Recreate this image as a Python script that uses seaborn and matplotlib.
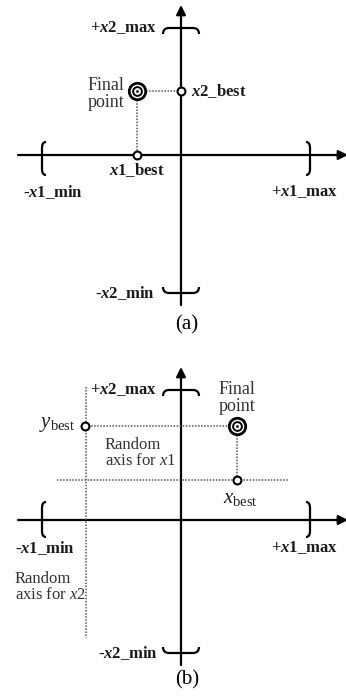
import matplotlib
matplotlib.use("Agg")
import matplotlib.pyplot as plt
from matplotlib.path import Path
from matplotlib.patches import PathPatch
import seaborn as sns

# Diagram geometry (offsets from the axis crossing, in pixel-like units)
# panel (a)
a_vaxis = [-150, 150]
a_haxis = [-163, 167]
a_xbr = [-139, 129]
a_xbr_span = [13, -20]
a_ybr = [127, -138]
a_final = (-44, 64)
a_x2best = (0, 64)
a_x1best = (-44, 0)

# panel (b)
b_vaxis = [-145, 153]
b_haxis = [-163, 167]
b_xbr = [-139, 129]
b_xbr_span = [18, -17]
b_ybr = [130, -133]
b_final = (56, 94)
b_ybest = (-96, 94)
b_xbest = (56, 40)
b_rand_x2 = [-95, 133, -118]   # x, y top, y bottom
b_rand_x1 = [40, -124, 107]    # y, x left, x right

sns.set_style('white')
plt.rcParams['font.family'] = ['Liberation Serif', 'DejaVu Serif']
plt.rcParams['mathtext.fontset'] = 'custom'
plt.rcParams['mathtext.rm'] = 'Liberation Serif'
plt.rcParams['mathtext.it'] = 'Liberation Serif:italic'
plt.rcParams['mathtext.bf'] = 'Liberation Serif:bold'
plt.rcParams['mathtext.bfit'] = 'Liberation Serif:bold:italic'

fig = plt.figure(figsize=(3.46, 6.96), dpi=100)
ax_a = fig.add_axes([0, 0.5, 1, 0.5])
ax_b = fig.add_axes([0, 0, 1, 0.5])
ax_a.set_xlim(-181, 165)
ax_a.set_ylim(-193, 155)
ax_b.set_xlim(-181, 165)
ax_b.set_ylim(-176, 172)

LW = 1.6
DOT = dict(color='#555555', linestyle=(0, (1, 1)), linewidth=1.1)
BOLD = dict(fontsize=12, fontweight='bold', color='#1a1a1a')
PLAIN = dict(fontsize=13, color='#333333')
SMALL = dict(fontsize=12, color='#333333')


def axes_cross(ax, vaxis, haxis):
    ax.plot([0, 0], [vaxis[0], vaxis[1] - 8], color='black', lw=LW)
    ax.plot([haxis[0], haxis[1] - 8], [0, 0], color='black', lw=LW)
    ax.annotate('', xy=(0, vaxis[1]), xytext=(0, vaxis[1] - 12),
                arrowprops=dict(arrowstyle='-|>', color='black', lw=LW,
                                mutation_scale=14, shrinkA=0, shrinkB=0))
    ax.annotate('', xy=(haxis[1], 0), xytext=(haxis[1] - 12, 0),
                arrowprops=dict(arrowstyle='-|>', color='black', lw=LW,
                                mutation_scale=14, shrinkA=0, shrinkB=0),
                annotation_clip=False)


def vbracket(ax, x, top, bot, d):
    # "(" when d > 0, ")" when d < 0
    h = 6
    verts = [(x + d, top), (x, top), (x, top - h),
             (x, bot + h),
             (x, bot), (x + d, bot)]
    codes = [Path.MOVETO, Path.CURVE3, Path.CURVE3,
             Path.LINETO, Path.CURVE3, Path.CURVE3]
    ax.add_patch(PathPatch(Path(verts, codes), fill=False, lw=LW, color='black'))


def hbracket(ax, y, half, d):
    # hooks point down when d < 0, up when d > 0
    h = 6
    verts = [(-half, y + d), (-half, y), (-half + h, y),
             (half - h, y),
             (half, y), (half, y + d)]
    codes = [Path.MOVETO, Path.CURVE3, Path.CURVE3,
             Path.LINETO, Path.CURVE3, Path.CURVE3]
    ax.add_patch(PathPatch(Path(verts, codes), fill=False, lw=LW, color='black'))


def small_point(ax, p):
    sns.scatterplot(x=[p[0]], y=[p[1]], ax=ax, s=32, color='white',
                    edgecolor='black', linewidth=1.5, zorder=5)


def final_point(ax, p):
    sns.scatterplot(x=[p[0]], y=[p[1]], ax=ax, s=140, color='white',
                    edgecolor='black', linewidth=2.0, zorder=5)
    sns.scatterplot(x=[p[0]], y=[p[1]], ax=ax, s=40, color='white',
                    edgecolor='black', linewidth=1.4, zorder=6)
    sns.scatterplot(x=[p[0]], y=[p[1]], ax=ax, s=4, color='black',
                    linewidth=0, zorder=7)


# ---------- panel (a) ----------
ax = ax_a
axes_cross(ax, a_vaxis, a_haxis)
vbracket(ax, a_xbr[0], a_xbr_span[0], a_xbr_span[1], 4)
vbracket(ax, a_xbr[1], a_xbr_span[0], a_xbr_span[1], -4)
hbracket(ax, a_ybr[0], 18, -6)
hbracket(ax, a_ybr[1], 18, 6)
sns.lineplot(x=[a_final[0], a_x2best[0]], y=[a_final[1], a_x2best[1]], ax=ax, **DOT)
sns.lineplot(x=[a_final[0], a_x1best[0]], y=[a_final[1], a_x1best[1]], ax=ax,
             sort=False, orient='y', **DOT)
small_point(ax, a_x2best)
small_point(ax, a_x1best)
final_point(ax, a_final)
ax.text(-24, a_ybr[0], r'+$\mathbfit{x}$2_max', ha='right', va='center', **BOLD)
ax.text(-26, a_ybr[1], r'-$\mathbfit{x}$2_min', ha='right', va='center', **BOLD)
ax.text(10, a_x2best[1], r'$\mathbfit{x}$2_best', ha='left', va='center', **BOLD)
ax.text(a_x1best[0], -15, r'$\mathbfit{x}$1_best', ha='center', va='center', **BOLD)
ax.text(-128, -37, r'-$\mathbfit{x}$1_min', ha='center', va='center', **BOLD)
ax.text(123, -37, r'+$\mathbfit{x}$1_max', ha='center', va='center', **BOLD)
ax.text(-57, 61, 'Final\npoint', ha='right', va='center', linespacing=1.0, **PLAIN)
ax.text(6, -170, '(a)', ha='center', va='center', fontsize=15, color='black')

# ---------- panel (b) ----------
ax = ax_b
axes_cross(ax, b_vaxis, b_haxis)
vbracket(ax, b_xbr[0], b_xbr_span[0], b_xbr_span[1], 4)
vbracket(ax, b_xbr[1], b_xbr_span[0], b_xbr_span[1], -4)
hbracket(ax, b_ybr[0], 18, -6)
hbracket(ax, b_ybr[1], 18, 6)
sns.lineplot(x=[b_rand_x2[0], b_rand_x2[0]], y=[b_rand_x2[1], b_rand_x2[2]], ax=ax,
             sort=False, orient='y', **DOT)
sns.lineplot(x=[b_rand_x1[1], b_rand_x1[2]], y=[b_rand_x1[0], b_rand_x1[0]], ax=ax, **DOT)
sns.lineplot(x=[b_ybest[0], b_final[0]], y=[b_ybest[1], b_final[1]], ax=ax, **DOT)
sns.lineplot(x=[b_final[0], b_xbest[0]], y=[b_final[1], b_xbest[1]], ax=ax,
             sort=False, orient='y', **DOT)
small_point(ax, b_ybest)
small_point(ax, b_xbest)
final_point(ax, b_final)
ax.text(-24, b_ybr[0], r'+$\mathbfit{x}$2_max', ha='right', va='center', **BOLD)
ax.text(-23, b_ybr[1], r'-$\mathbfit{x}$2_min', ha='right', va='center', **BOLD)
ax.text(-136, -28, r'-$\mathbfit{x}$1_min', ha='center', va='center', **BOLD)
ax.text(123, -28, r'+$\mathbfit{x}$1_max', ha='center', va='center', **BOLD)
ax.text(-106, b_ybest[1] + 1, r'$y_{\mathrm{best}}$', ha='right', va='center', fontsize=15, color='#222222')
ax.text(42, 22, r'$x_{\mathrm{best}}$', ha='left', va='center', fontsize=15, color='#222222')
ax.text(38, 122, 'Final\npoint', ha='left', va='center', linespacing=1.0, **PLAIN)
ax.text(-76, 67, 'Random\naxis for $x$1', ha='left', va='center', linespacing=1.05, **SMALL)
ax.text(-166, -67, 'Random\naxis for $x$2', ha='left', va='center', linespacing=1.05, **SMALL)
ax.text(6, -160, '(b)', ha='center', va='center', fontsize=15, color='black')

for a in (ax_a, ax_b):
    a.set_axis_off()
    legend = a.get_legend()
    if legend is not None:
        legend.remove()

fig.savefig('out.png', dpi=100)
